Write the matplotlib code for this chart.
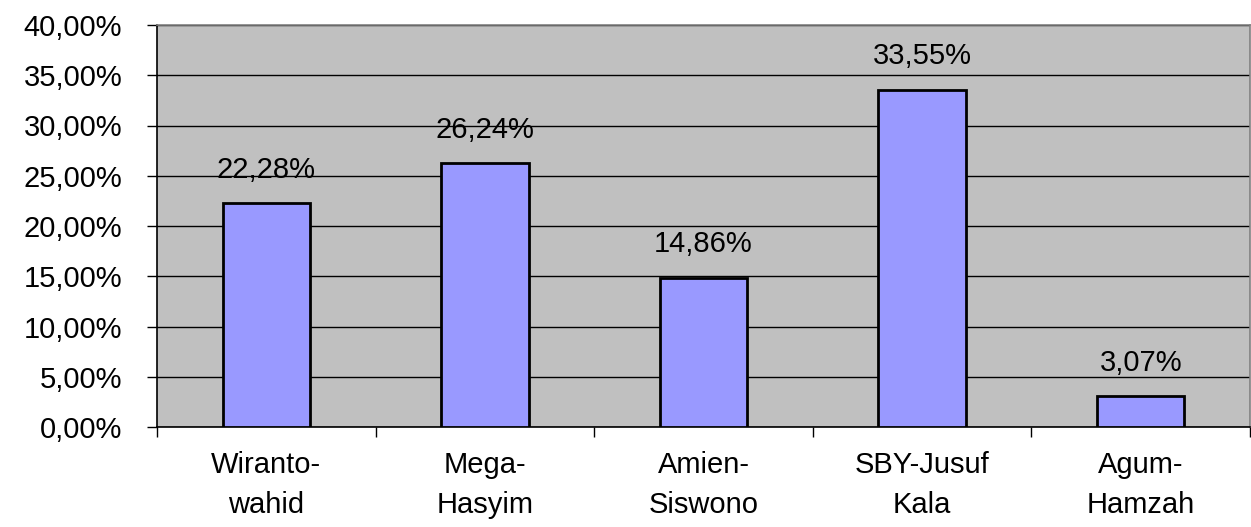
import matplotlib
matplotlib.use("Agg")
import matplotlib.pyplot as plt
from matplotlib.ticker import FuncFormatter

categories = ["Wiranto-\nwahid", "Mega-\nHasyim", "Amien-\nSiswono", "SBY-Jusuf\nKala", "Agum-\nHamzah"]
values = [22.28, 26.24, 14.86, 33.55, 3.07]
yticks = [0, 5, 10, 15, 20, 25, 30, 35, 40]

plt.rcParams["font.family"] = ["Liberation Sans", "DejaVu Sans"]

fig = plt.figure(figsize=(12.51, 5.27), dpi=100)
ax = fig.add_axes([157 / 1251, 1 - 427 / 527, (1250 - 157) / 1251, (427 - 25) / 527])
ax.set_facecolor("#C0C0C0")

x = range(len(categories))
ax.bar(x, values, width=0.4, color="#9999FF", edgecolor="black", linewidth=2, zorder=3)
for xi, v in zip(x, values):
    ax.annotate(f"{v:.2f}%".replace(".", ","), (xi, v), xytext=(0, 14),
                textcoords="offset points", ha="center", va="bottom", fontsize=21)

ax.set_xlim(-0.5, len(categories) - 0.5)
ax.set_ylim(0, 40)
ax.set_yticks(yticks)
ax.yaxis.set_major_formatter(FuncFormatter(lambda v, p: f"{v:.2f}%".replace(".", ",")))
ax.grid(axis="y", color="black", lw=1, zorder=1)

# category separators as ticks, labels centered via minor ticks
ax.set_xticks([i - 0.5 for i in range(len(categories) + 1)])
ax.set_xticklabels([])
ax.set_xticks(list(x), minor=True)
ax.set_xticklabels(categories, minor=True, fontsize=21, linespacing=1.55)
ax.tick_params(axis="x", which="major", length=7, width=1, direction="out")
ax.tick_params(axis="x", which="minor", length=0, pad=17)
ax.tick_params(axis="y", length=7, width=1, pad=18, labelsize=21)

ax.spines["left"].set_color("black")
ax.spines["bottom"].set_color("black")
ax.spines["top"].set_color("#808080")
ax.spines["right"].set_color("#808080")
for s in ax.spines.values():
    s.set_linewidth(1.2)

fig.savefig("out.png", dpi=100)
